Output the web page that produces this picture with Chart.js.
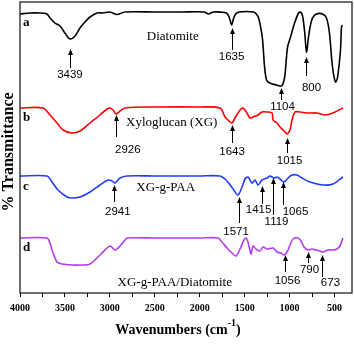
<!DOCTYPE html>
<html>
<head>
<meta charset="utf-8">
<script src="https://cdn.jsdelivr.net/npm/chart.js@4.4.1/dist/chart.umd.min.js"></script>
<style>
  html, body { margin: 0; padding: 0; background: #fff; }
  canvas { display: block; }
</style>
</head>
<body>
<canvas id="ftir" width="354" height="344"></canvas>
<script>
// DADOS (transmitância relativa, curvas deslocadas)
const xTicks = [4000, 3750, 3500, 3250, 3000, 2750, 2500, 2250, 2000, 1750, 1500, 1250, 1000, 750, 500];

const diatomiteWn = [4000, 3890, 3780, 3700, 3666, 3611, 3555, 3500, 3444, 3388, 3332, 3277, 3221, 3143, 3077, 3000, 2920, 2833, 2500, 2200, 1950, 1900, 1850, 1720, 1690, 1665, 1645, 1625, 1600, 1560, 1480, 1400, 1370, 1345, 1320, 1300, 1278, 1256, 1222, 1145, 1090, 1056, 1035, 1022, 989, 944, 900, 878, 855, 833, 811, 789, 767, 744, 700, 633, 589, 556, 522, 489, 467, 433, 422, 411];
const diatomiteT = [279, 280, 280, 279, 275, 270, 267, 260, 254, 257, 265, 271, 276, 280, 280, 281, 278.5, 281, 281, 281, 281, 279, 281, 280.5, 279, 274, 268, 274, 279, 281, 281.5, 281, 279, 275, 265, 253, 226, 213, 210, 208, 207, 215, 235, 246, 256, 270, 280, 281, 277, 262, 241, 256, 268, 275, 279, 279, 275, 260, 226, 211, 215, 243, 266, 268];

const xgWn = [4000, 3744, 3666, 3588, 3521, 3421, 3332, 3221, 3110, 3032, 2998, 2965, 2932, 2887, 2831, 2500, 2000, 1774, 1718, 1674, 1640, 1607, 1551, 1518, 1474, 1440, 1407, 1351, 1307, 1251, 1195, 1184, 1140, 1106, 1050, 1028, 995, 973, 939, 884, 806, 695, 606, 517, 406];
const xgT = [185, 185, 178, 170, 163, 160, 162, 170, 178, 184, 185, 183, 179, 182, 185, 186, 186, 185, 176, 172, 170, 175, 183, 185, 180, 175, 176, 178, 181, 181, 180, 173, 170, 166, 161, 159, 163, 173, 181, 181, 180, 180, 178, 180, 185];

const paaWn = [4000, 3700, 3644, 3577, 3477, 3421, 3332, 3221, 3110, 3021, 2976, 2943, 2887, 2809, 2500, 2000, 1774, 1696, 1629, 1574, 1529, 1496, 1462, 1418, 1384, 1351, 1307, 1251, 1218, 1173, 1140, 1106, 1062, 1017, 973, 917, 862, 773, 628, 517, 406];
const paaT = [117, 117, 111, 103, 96, 95, 96, 101, 108, 113, 112, 110, 115, 117, 117, 117, 117, 112, 104, 98, 106, 114, 116, 110, 113, 108, 113, 115, 117, 115, 116, 114, 111, 115, 118, 118, 115, 111, 108, 109, 116];

const compWn = [4000, 3700, 3666, 3644, 3588, 3532, 3421, 3332, 3221, 3110, 2998, 2943, 2887, 2831, 2809, 2500, 2000, 1796, 1752, 1696, 1640, 1596, 1551, 1507, 1485, 1462, 1429, 1407, 1374, 1329, 1296, 1251, 1184, 1140, 1095, 1062, 1028, 995, 962, 906, 873, 839, 795, 750, 706, 661, 628, 572, 517, 473, 439, 406];
const compT = [55, 55, 50, 43, 31, 29, 28, 28, 29, 38, 47, 43, 47, 53, 55, 55, 55, 55, 51, 45, 40, 37, 44, 53, 55, 51, 39, 47, 44, 42, 46, 44, 45, 41, 40, 38, 41, 48, 54, 55, 52, 46, 43, 44, 43, 42, 41, 43, 43, 44, 47, 55];

const seriesNames = ["Diatomite", "Xyloglucan (XG)", "XG-g-PAA", "XG-g-PAA/Diatomite"];
const seriesLetters = ["a", "b", "c", "d"];
const seriesColors = ["#000000", "#ff0000", "#1f3cff", "#b23cf2"];

// picos marcados: texto, posição da seta, ponta, cauda, posição do texto
const peaks = [
  { text: "3439", at: 3444, head: 244, tail: 225, lx: 3444, ly: 218 },
  { text: "1635", at: 1645, head: 265, tail: 243, lx: 1645, ly: 236 },
  { text: "1104", at: 1100, head: 205, tail: 193, lx: 1078, ly: 186 },
  { text: "800", at: 817, head: 236, tail: 217, lx: 756, ly: 205.5 },
  { text: "2926", at: 2933, head: 178, tail: 156, lx: 2800, ly: 143 },
  { text: "1643", at: 1645, head: 168, tail: 150, lx: 1640, ly: 141 },
  { text: "1015", at: 1028, head: 155, tail: 140, lx: 1000, ly: 132 },
  { text: "2941", at: 2950, head: 108, tail: 91, lx: 2911, ly: 81 },
  { text: "1571", at: 1567, head: 96, tail: 70, lx: 1595, ly: 61 },
  { text: "1415", at: 1311, head: 107, tail: 89, lx: 1345, ly: 83 },
  { text: "1119", at: 1189, head: 115, tail: 78, lx: 1145, ly: 71.5 },
  { text: "1065", at: 1078, head: 111, tail: 88, lx: 934, ly: 81 },
  { text: "1056", at: 1056, head: 38, tail: 21, lx: 1023, ly: 12 },
  { text: "790", at: 800, head: 41, tail: 30, lx: 778, ly: 23 },
  { text: "673", at: 634, head: 38, tail: 16, lx: 545, ly: 10 },
];

const nameAt = [[2300, 256], [2311, 170], [2378, 105], [2278, 10]];
const letterAt = [[3967, 270], [3967, 175], [3967, 106], [3967, 45]];

function pares(wn, t) {
  return wn.map((w, i) => ({ x: w, y: t[i] }));
}

const curvas = [pares(diatomiteWn, diatomiteT), pares(xgWn, xgT), pares(paaWn, paaT), pares(compWn, compT)];

// textos, setas e moldura
const extras = {
  id: "extras",
  afterDatasetsDraw(chart) {
    const { ctx, chartArea: a, scales } = chart;
    const sx = scales.x, sy = scales.y;
    ctx.save();

    ctx.strokeStyle = "#222";
    ctx.lineWidth = 1.3;
    ctx.strokeRect(a.left, a.top, a.right - a.left, a.bottom - a.top);

    ctx.strokeStyle = "#000";
    ctx.fillStyle = "#000";
    ctx.lineWidth = 1;
    peaks.forEach((p) => {
      const px = Math.round(sx.getPixelForValue(p.at)) + 0.5;
      const hy = sy.getPixelForValue(p.head);
      const ty = sy.getPixelForValue(p.tail);
      ctx.beginPath();
      ctx.moveTo(px, ty);
      ctx.lineTo(px, hy + 4);
      ctx.stroke();
      ctx.beginPath();
      ctx.moveTo(px, hy);
      ctx.lineTo(px - 2.5, hy + 6);
      ctx.lineTo(px + 2.5, hy + 6);
      ctx.closePath();
      ctx.fill();
    });

    ctx.font = "11.5px 'Liberation Sans', Arial, sans-serif";
    ctx.textAlign = "center";
    ctx.textBaseline = "middle";
    peaks.forEach((p) => {
      ctx.fillText(p.text, sx.getPixelForValue(p.lx), sy.getPixelForValue(p.ly));
    });

    ctx.font = "13px 'Liberation Serif', 'Times New Roman', serif";
    seriesNames.forEach((n, i) => {
      ctx.fillText(n, sx.getPixelForValue(nameAt[i][0]), sy.getPixelForValue(nameAt[i][1]));
    });

    ctx.font = "bold 13px 'Liberation Serif', 'Times New Roman', serif";
    ctx.textAlign = "left";
    seriesLetters.forEach((l, i) => {
      ctx.fillText(l, sx.getPixelForValue(letterAt[i][0]), sy.getPixelForValue(letterAt[i][1]));
    });

    // título do eixo y
    ctx.save();
    ctx.translate(9, 152);
    ctx.rotate(-Math.PI / 2);
    ctx.font = "bold 16px 'Liberation Serif', 'Times New Roman', serif";
    ctx.textAlign = "center";
    ctx.fillText("% Transmittance", 0, 0);
    ctx.restore();

    // título do eixo x com sobrescrito
    const base = "Wavenumbers (cm";
    const sup = "-1";
    ctx.font = "bold 14px 'Liberation Serif', 'Times New Roman', serif";
    const w1 = ctx.measureText(base).width;
    const w3 = ctx.measureText(")").width;
    ctx.font = "bold 10px 'Liberation Serif', 'Times New Roman', serif";
    const w2 = ctx.measureText(sup).width;
    let x0 = 178 - (w1 + w2 + w3) / 2;
    ctx.textAlign = "left";
    ctx.textBaseline = "alphabetic";
    ctx.font = "bold 14px 'Liberation Serif', 'Times New Roman', serif";
    ctx.fillText(base, x0, 334);
    ctx.font = "bold 10px 'Liberation Serif', 'Times New Roman', serif";
    ctx.fillText(sup, x0 + w1, 326);
    ctx.font = "bold 14px 'Liberation Serif', 'Times New Roman', serif";
    ctx.fillText(")", x0 + w1 + w2, 334);

    ctx.restore();
  },
};

const grafico = new Chart(document.querySelector("#ftir"), {
  type: "line",
  data: {
    datasets: curvas.map((c, i) => ({
      label: seriesNames[i],
      data: c,
      borderColor: seriesColors[i],
      borderWidth: 1.6,
      pointRadius: 0,
      fill: false,
      tension: 0.3,
    })),
  },
  options: {
    responsive: false,
    animation: false,
    devicePixelRatio: 1,
    layout: { padding: { top: 2, right: 2, left: 0, bottom: 0 } },
    plugins: { legend: { display: false }, tooltip: { enabled: false } },
    scales: {
      x: {
        type: "linear",
        reverse: true,
        min: 305,
        max: 4000,
        afterBuildTicks: (s) => { s.ticks = xTicks.map((v) => ({ value: v })); },
        afterFit: (s) => { s.height = 51; },
        grid: { display: true, drawOnChartArea: false, drawTicks: true, tickLength: 4, color: "#000", lineWidth: 1 },
        border: { display: false },
        ticks: {
          autoSkip: false,
          maxRotation: 0,
          padding: 5,
          color: "#000",
          font: { family: "'Liberation Serif', 'Times New Roman', serif", weight: "bold", size: 10 },
          callback: (v) => (v % 500 === 0 ? String(v) : ""),
        },
      },
      y: {
        min: 0,
        max: 291,
        afterFit: (s) => { s.width = 20; },
        grid: { display: false },
        border: { display: false },
        ticks: { display: false },
      },
    },
  },
  plugins: [extras],
});
</script>
</body>
</html>
